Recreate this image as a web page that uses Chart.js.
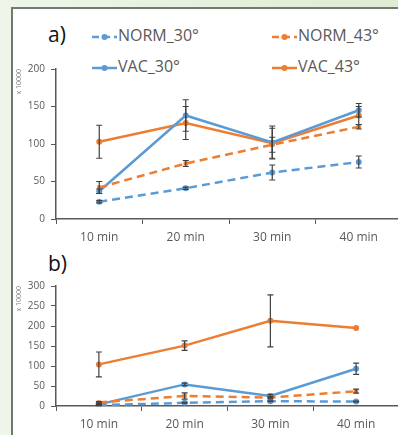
<!DOCTYPE html>
<html>
<head>
<meta charset="utf-8">
<script src="https://cdn.jsdelivr.net/npm/chart.js@4.4.1/dist/chart.umd.min.js"></script>
<style>
  html, body { margin: 0; padding: 0; }
  body {
    width: 398px; height: 435px; overflow: hidden; position: relative;
    background: linear-gradient(to right, #eef6ea, #dfebd3);
    font-family: 'Open Sans', sans-serif;
  }
  .panel {
    position: absolute; left: 11px; top: 7px; width: 400px; height: 440px;
    background: #fff; border-left: 2px solid #6f7b6f; border-top: 2px solid #6f7b6f;
  }
  .tag { position: absolute; font-size: 21px; color: #111; line-height: 1; }
  .leg { position: absolute; font-size: 16px; color: #595959; line-height: 1; white-space: nowrap; }
  .leg svg { vertical-align: middle; margin-right: 1px; }
  canvas { position: absolute; }
</style>
</head>
<body>
<div class="panel"></div>
<div class="tag" style="left:48px; top:24px;">a)</div>
<div class="tag" style="left:48px; top:253px;">b)</div>
<div id="legend"></div>
<div style="position:absolute; left:10px; top:57px; width:396px; height:193px;"><canvas id="chartA"></canvas></div>
<div style="position:absolute; left:10px; top:274px; width:393px; height:160px;"><canvas id="chartB"></canvas></div>
<script>
const categories = ['10 min', '20 min', '30 min', '40 min'];
const seriesNames = ['NORM_30°', 'NORM_43°', 'VAC_30°', 'VAC_43°'];

// panel a)
const aNorm30 = [23, 41, 62, 76];
const aNorm43 = [42, 74, 99, 123];
const aVac30 = [37, 138, 102, 145];
const aVac43 = [103, 128, 101, 138];
const aNorm30Err = [1.5, 1.5, 10, 8];
const aNorm43Err = [8, 4, 10, 3];
const aVac30Err = [3, 21, 22, 9];
const aVac43Err = [22, 22, 20, 12];
const aTicks = [0, 50, 100, 150, 200];

// panel b)
const bNorm30 = [2, 8, 12, 11];
const bNorm43 = [9, 25, 21, 37];
const bVac30 = [4, 54, 25, 93];
const bVac43 = [104, 151, 213, 195];
const bNorm30Err = [1, 1, 1, 1];
const bNorm43Err = [2, 8, 3, 5];
const bVac30Err = [2, 3, 4, 14];
const bVac43Err = [31, 12, 65, 0];
const bTicks = [0, 50, 100, 150, 200, 250, 300];

const BLUE = '#5b9bd5';
const ORANGE = '#ed7d31';
const AXIS = '#595959';

// legend (html, 2 x 2)
const legendItems = [
  { name: seriesNames[0], color: BLUE, dash: true, x: 92, y: 36 },
  { name: seriesNames[1], color: ORANGE, dash: true, x: 272, y: 36 },
  { name: seriesNames[2], color: BLUE, dash: false, x: 92, y: 67 },
  { name: seriesNames[3], color: ORANGE, dash: false, x: 272, y: 67 }
];
const legendBox = document.getElementById('legend');
legendItems.forEach(function(it) {
  const d = document.createElement('div');
  d.className = 'leg';
  d.style.left = it.x + 'px';
  d.style.top = (it.y - 9) + 'px';
  d.innerHTML = '<svg width="25" height="8"><line x1="0" y1="4" x2="25" y2="4" stroke="' + it.color +
    '" stroke-width="2.5"' + (it.dash ? ' stroke-dasharray="7 4"' : '') + '/><circle cx="12.5" cy="4" r="3" fill="' +
    it.color + '"/></svg>' + it.name;
  legendBox.appendChild(d);
});

// error bars drawn through the y scale
const errorBars = {
  id: 'errorBars',
  afterDatasetsDraw(chart) {
    const ctx = chart.ctx;
    const y = chart.scales.y;
    ctx.save();
    ctx.strokeStyle = '#404040';
    ctx.lineWidth = 1.2;
    chart.data.datasets.forEach(function(ds, i) {
      const meta = chart.getDatasetMeta(i);
      meta.data.forEach(function(pt, j) {
        const e = ds.errors[j];
        if (!e) return;
        const top = y.getPixelForValue(ds.data[j] + e);
        const bot = y.getPixelForValue(ds.data[j] - e);
        ctx.beginPath();
        ctx.moveTo(pt.x, top); ctx.lineTo(pt.x, bot);
        ctx.moveTo(pt.x - 3, top); ctx.lineTo(pt.x + 3, top);
        ctx.moveTo(pt.x - 3, bot); ctx.lineTo(pt.x + 3, bot);
        ctx.stroke();
      });
    });
    ctx.restore();
  }
};

function makeSet(label, data, errors, color, dashed, shape) {
  return {
    label: label,
    data: data,
    errors: errors,
    borderColor: color,
    backgroundColor: color,
    borderWidth: 2.5,
    borderDash: dashed ? [8, 5] : [],
    pointStyle: shape,
    pointRadius: 3,
    pointBorderWidth: 0,
    tension: 0
  };
}

function makeChart(id, sets, ticks, xHeight) {
  const maxV = ticks[ticks.length - 1];
  return new Chart(document.getElementById(id).getContext('2d'), {
    type: 'line',
    data: { labels: categories, datasets: sets },
    options: {
      responsive: true,
      maintainAspectRatio: false,
      animation: false,
      layout: { padding: { top: 10, right: 0, bottom: 0, left: 0 } },
      plugins: { legend: { display: false }, tooltip: { enabled: false } },
      scales: {
        x: {
          offset: true,
          grid: { offset: true, drawOnChartArea: false, drawTicks: true, tickLength: 5, color: AXIS },
          border: { color: AXIS, width: 1.5 },
          ticks: { color: AXIS, font: { family: 'Open Sans', size: 12 }, padding: 6, maxRotation: 0 },
          afterFit(s) { s.height = xHeight; }
        },
        y: {
          min: 0,
          max: maxV,
          afterBuildTicks(s) { s.ticks = ticks.map(function(v) { return { value: v }; }); },
          grid: { drawOnChartArea: false, drawTicks: true, tickLength: 5, color: AXIS },
          border: { color: AXIS, width: 1.5 },
          ticks: { color: AXIS, font: { family: 'Open Sans', size: 10 }, padding: 6 },
          title: {
            display: true, text: 'x 10000', align: 'end', color: '#7f7f7f',
            font: { family: 'Open Sans', size: 7 }, padding: { top: 5, bottom: 0 }
          },
          afterFit(s) { s.width = 46; }
        }
      }
    },
    plugins: [errorBars]
  });
}

makeChart('chartA', [
  makeSet(seriesNames[0], aNorm30, aNorm30Err, BLUE, true, 'circle'),
  makeSet(seriesNames[1], aNorm43, aNorm43Err, ORANGE, true, 'rect'),
  makeSet(seriesNames[2], aVac30, aVac30Err, BLUE, false, 'circle'),
  makeSet(seriesNames[3], aVac43, aVac43Err, ORANGE, false, 'circle')
], aTicks, 31);

makeChart('chartB', [
  makeSet(seriesNames[0], bNorm30, bNorm30Err, BLUE, true, 'circle'),
  makeSet(seriesNames[1], bNorm43, bNorm43Err, ORANGE, true, 'rect'),
  makeSet(seriesNames[2], bVac30, bVac30Err, BLUE, false, 'circle'),
  makeSet(seriesNames[3], bVac43, bVac43Err, ORANGE, false, 'circle')
], bTicks, 28);
</script>
</body>
</html>
